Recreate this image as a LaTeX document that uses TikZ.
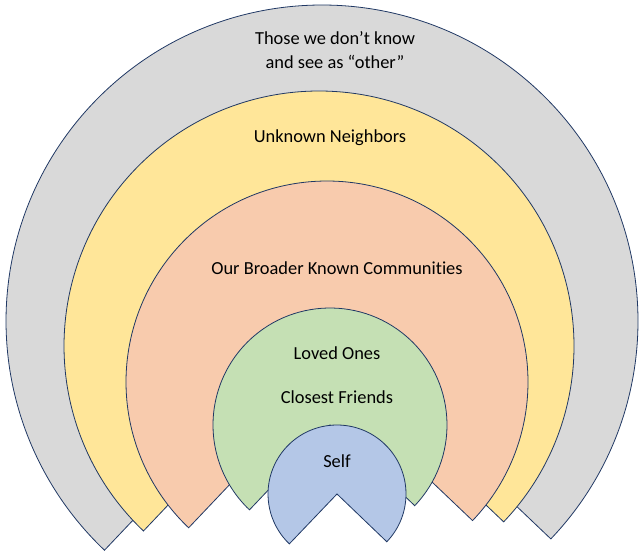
\documentclass[tikz,border=0pt]{standalone}
\usepackage{fontspec}
\setmainfont{Carlito}[Ligatures={NoCommon}]
\definecolor{edge}{HTML}{203864}
\definecolor{cgray}{HTML}{D9D9D9}
\definecolor{cyellow}{HTML}{FFE699}
\definecolor{cpeach}{HTML}{F8CBAD}
\definecolor{cgreen}{HTML}{C5E0B4}
\definecolor{cblue}{HTML}{B4C7E7}
\begin{document}
\begin{tikzpicture}[x=1pt,y=1pt,
  ring/.style={draw=edge,line width=0.8pt,line join=miter},
  lbl/.style={font=\fontsize{18.4}{24}\selectfont,align=center,inner sep=0pt,text=black}]
\useasboundingbox (0,0) rectangle (644,554);
% gray
\filldraw[ring,fill=cgray] (322,233) -- ++(-43.6:316) arc[start angle=-43.6,end angle=226.5,radius=316] -- cycle;
% yellow
\filldraw[ring,fill=cyellow] (319,208) -- ++(-43.6:255) arc[start angle=-43.6,end angle=226.5,radius=255] -- cycle;
% peach
\filldraw[ring,fill=cpeach] (327,172) -- ++(-43.6:201) arc[start angle=-43.6,end angle=226.5,radius=201] -- cycle;
% green
\filldraw[ring,fill=cgreen] (330,129) -- ++(-43.6:117) arc[start angle=-43.6,end angle=226.5,radius=117] -- cycle;
% blue
\filldraw[ring,fill=cblue] (337,60) -- ++(-43.8:69) arc[start angle=-43.8,end angle=226.3,radius=69] -- cycle;
% labels
\node[lbl] (other) at (335,504) {Those we don’t know\\and see as “other”};
\node[lbl] (unknown) at (330,416) {Unknown Neighbors};
\node[lbl] (broader) at (337,286) {Our Broader Known Communities};
\node[lbl] (loved) at (337,201) {Loved Ones};
\node[lbl] (closest) at (337,157) {Closest Friends};
\node[lbl] (self) at (337,93) {Self};
\end{tikzpicture}
\end{document}
